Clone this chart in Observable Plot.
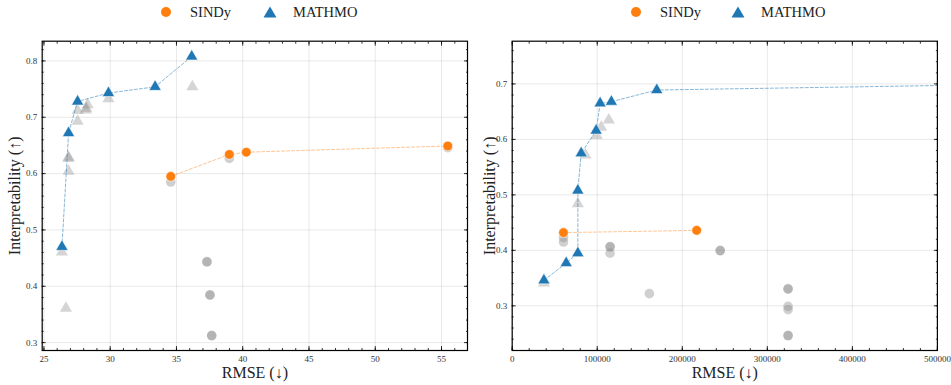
<!DOCTYPE html>
<html>
<head>
<meta charset="utf-8">
<script src="https://cdn.jsdelivr.net/npm/d3@7"></script>
<script src="https://cdn.jsdelivr.net/npm/@observablehq/plot@0.6"></script>
<style>
  body { margin: 0; background: #fff; font-family: "Liberation Serif", "DejaVu Serif", serif; }
  #wrap { display: flex; width: 951px; height: 385px; }
  .legend { position: relative; height: 24px; font-size: 14.5px; color: #222; }
  .legend .item { position: absolute; top: 0; height: 24px; display: flex; align-items: center; }
  .legend svg { display: block; }
  svg.plot, svg.plot text, svg.plot g { font-family: "Liberation Serif", "DejaVu Serif", serif !important; }
  svg.plot g[aria-label="x-axis tick label"], svg.plot g[aria-label="y-axis tick label"] { font-size: 9px; fill: #333; }
  svg.plot g[aria-label="x-axis label"], svg.plot g[aria-label="y-axis label"] { font-size: 16px; fill: #222; font-weight: normal; }
</style>
</head>
<body>
<div id="wrap"></div>
<script>
// ---------- data: left panel ----------
const leftSindyX = [34.57, 38.99, 40.27, 55.47];
const leftSindyY = [0.595, 0.634, 0.638, 0.649];
const leftMathmoX = [26.36, 26.86, 27.54, 29.87, 33.39, 36.15];
const leftMathmoY = [0.470, 0.672, 0.728, 0.743, 0.754, 0.808];
const leftGrayTriX = [26.36, 26.66, 26.86, 26.86, 26.86, 27.54, 27.54, 28.17, 28.30, 28.20, 29.87, 36.20];
const leftGrayTriY = [0.461, 0.361, 0.629, 0.627, 0.604, 0.712, 0.693, 0.713, 0.722, 0.716, 0.733, 0.754];
const leftGrayCircX = [34.57, 38.99, 55.47, 37.30, 37.30, 37.53, 37.53, 37.66, 37.66];
const leftGrayCircY = [0.585, 0.627, 0.646, 0.444, 0.443, 0.385, 0.384, 0.312, 0.313];
const leftXTicks = [25, 30, 35, 40, 45, 50, 55];
const leftYTicks = [0.3, 0.4, 0.5, 0.6, 0.7, 0.8];

// ---------- data: right panel ----------
const rightSindyX = [60300, 216900];
const rightSindyY = [0.432, 0.436];
const rightMathmoX = [37300, 63500, 77200, 77200, 81100, 98700, 103400, 116600, 170000, 620000];
const rightMathmoY = [0.346, 0.377, 0.395, 0.508, 0.575, 0.616, 0.665, 0.668, 0.689, 0.700];
const rightGrayTriX = [37300, 77200, 86150, 99500, 104600, 113600];
const rightGrayTriY = [0.341, 0.484, 0.572, 0.607, 0.622, 0.635];
const rightGrayCircX = [60300, 60300, 115100, 115100, 115100, 161300, 244600, 244600, 324400, 324400, 324400, 324400, 324400, 324400];
const rightGrayCircY = [0.423, 0.415, 0.407, 0.406, 0.395, 0.322, 0.400, 0.399, 0.331, 0.330, 0.299, 0.293, 0.247, 0.246];
const rightXTicks = [0, 100000, 200000, 300000, 400000, 500000];
const rightYTicks = [0.3, 0.4, 0.5, 0.6, 0.7];

const legendLabels = ["SINDy", "MATHMO"];
const BLUE = "#1f77b4", ORANGE = "#ff7f0e";

const pts = (xs, ys) => xs.map((x, i) => ({x, y: ys[i]}));
const range = (a, b, s) => d3.range(Math.round(a / s), Math.round(b / s) + 1).map(k => +(k * s).toPrecision(12));

function legend(pos1, pos2) {
  const div = document.createElement("div");
  div.className = "legend";
  div.innerHTML = `
    <div class="item" style="left:${pos1}px"><svg width="12" height="12"><circle cx="6" cy="6" r="5" fill="${ORANGE}"/></svg>
      <span style="margin-left:18px">${legendLabels[0]}</span></div>
    <div class="item" style="left:${pos2}px"><svg width="14" height="12"><path d="M7,0.5 L13.5,11.5 L0.5,11.5 Z" fill="${BLUE}"/></svg>
      <span style="margin-left:16px">${legendLabels[1]}</span></div>`;
  return div;
}

function panel(o) {
  const sindy = pts(o.sx, o.sy), mathmo = pts(o.mx, o.my);
  const gtri = pts(o.gtx, o.gty), gcirc = pts(o.gcx, o.gcy);
  const xMinor = range(o.xMinorFrom, o.xMinorTo, o.xMinorStep).filter(v => v >= o.xDomain[0] && v <= o.xDomain[1]);
  const yMinor = range(o.yMinorFrom, o.yMinorTo, 0.02).filter(v => v >= o.yDomain[0] && v <= o.yDomain[1]);
  const tickStyle = {stroke: "#000", strokeWidth: 0.8};
  const plot = Plot.plot({
    width: o.width, height: 361,
    marginLeft: o.ml, marginRight: o.mr, marginTop: 16.7, marginBottom: 35,
    style: {fontFamily: '"Liberation Serif", "DejaVu Serif", serif', background: "#fff"},
    x: {domain: o.xDomain},
    y: {domain: o.yDomain},
    marks: [
      Plot.gridX(o.xTicks, {stroke: "#000", strokeOpacity: 0.1, strokeWidth: 0.9}),
      Plot.gridY(o.yTicks, {stroke: "#000", strokeOpacity: 0.1, strokeWidth: 0.9}),
      Plot.dot(gcirc, {x: "x", y: "y", r: 4.8, fill: "#8a8a8a", fillOpacity: 0.4, clip: true}),
      Plot.dot(gtri, {x: "x", y: "y", symbol: "triangle", r: 4.5, fill: "#8a8a8a", fillOpacity: 0.36, clip: true}),
      Plot.line(mathmo, {x: "x", y: "y", stroke: BLUE, strokeOpacity: 0.6, strokeWidth: 0.9, strokeDasharray: "3,2", clip: true}),
      Plot.line(sindy, {x: "x", y: "y", stroke: ORANGE, strokeOpacity: 0.5, strokeWidth: 0.9, strokeDasharray: "3,2", clip: true}),
      Plot.dot(sindy, {x: "x", y: "y", r: 4.8, fill: ORANGE, stroke: "#fff", strokeWidth: 0.5, clip: true}),
      Plot.dot(mathmo, {x: "x", y: "y", symbol: "triangle", r: 4.5, fill: BLUE, stroke: "#fff", strokeWidth: 0.5, clip: true}),
      Plot.frame({stroke: "#000", strokeWidth: 1.2}),
      // labels
      Plot.axisX(o.xTicks, {anchor: "bottom", tickSize: 0, tickPadding: 5, tickFormat: o.xFormat,
        label: "RMSE (↓)", labelAnchor: "center", labelArrow: "none", labelOffset: 27}),
      Plot.axisY(o.yTicks, {anchor: "left", tickSize: 0, tickPadding: 5, tickFormat: d3.format(".1f"),
        label: "Interpretability (↑)", labelAnchor: "center", labelArrow: "none", labelOffset: o.yLabelOffset}),
      // inward ticks
      Plot.axisX(o.xTicks, {anchor: "bottom", tickSize: -4, text: null, label: null, ...tickStyle}),
      Plot.axisX(o.xTicks, {anchor: "top", tickSize: -4, text: null, label: null, ...tickStyle}),
      Plot.axisX(xMinor, {anchor: "bottom", tickSize: -2, text: null, label: null, ...tickStyle}),
      Plot.axisX(xMinor, {anchor: "top", tickSize: -2, text: null, label: null, ...tickStyle}),
      Plot.axisY(o.yTicks, {anchor: "left", tickSize: -4, text: null, label: null, ...tickStyle}),
      Plot.axisY(o.yTicks, {anchor: "right", tickSize: -4, text: null, label: null, ...tickStyle}),
      Plot.axisY(yMinor, {anchor: "left", tickSize: -2, text: null, label: null, ...tickStyle}),
      Plot.axisY(yMinor, {anchor: "right", tickSize: -2, text: null, label: null, ...tickStyle})
    ]
  });
  plot.classList.add("plot");
  const div = document.createElement("div");
  div.style.width = o.width + "px";
  div.appendChild(legend(o.leg1, o.leg2));
  div.appendChild(plot);
  return div;
}

const wrap = document.getElementById("wrap");
wrap.appendChild(panel({
  width: 475, ml: 41.7, mr: 8, leg1: 160, leg2: 263,
  xDomain: [24.87, 56.96], yDomain: [0.286, 0.835],
  xTicks: leftXTicks, yTicks: leftYTicks,
  xMinorFrom: 25, xMinorTo: 57, xMinorStep: 1,
  yMinorFrom: 0.28, yMinorTo: 0.84,
  xFormat: d3.format("d"), yLabelOffset: 34,
  sx: leftSindyX, sy: leftSindyY, mx: leftMathmoX, my: leftMathmoY,
  gtx: leftGrayTriX, gty: leftGrayTriY, gcx: leftGrayCircX, gcy: leftGrayCircY
}));
wrap.appendChild(panel({
  width: 476, ml: 36.7, mr: 14.1, leg1: 155, leg2: 256,
  xDomain: [0, 500000], yDomain: [0.2195, 0.777],
  xTicks: rightXTicks, yTicks: rightYTicks,
  xMinorFrom: 0, xMinorTo: 500000, xMinorStep: 20000,
  yMinorFrom: 0.22, yMinorTo: 0.78,
  xFormat: d3.format("d"), yLabelOffset: 29,
  sx: rightSindyX, sy: rightSindyY, mx: rightMathmoX, my: rightMathmoY,
  gtx: rightGrayTriX, gty: rightGrayTriY, gcx: rightGrayCircX, gcy: rightGrayCircY
}));
</script>
</body>
</html>
